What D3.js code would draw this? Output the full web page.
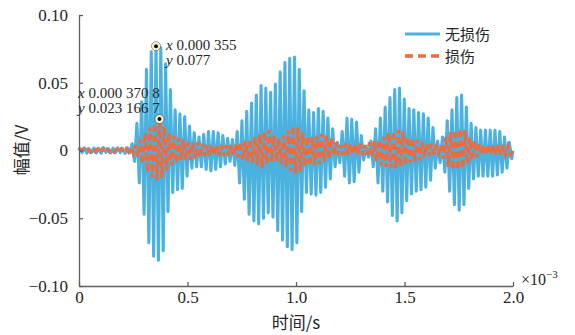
<!DOCTYPE html>
<html>
<head>
<meta charset="utf-8">
<script src="https://cdn.jsdelivr.net/npm/d3@7"></script>
<style>
  html, body { margin: 0; padding: 0; background: #fff; }
  svg { display: block; }
</style>
</head>
<body>
<svg id="chart" width="575" height="335"></svg>
<script>
// Echo signal: per-cycle extremes (V) of the carrier, undamaged and damaged plate
const cyclePeriod = 0.022e-3;          // carrier period, s
const blueStart = 0.003e-3;            // time of first positive extreme, s
const orangeStart = 0.0188e-3;

const blueUpper = [0.0016,0.0020,0.0013,0.0018,0.0015,0.0021,0.0014,0.0017,0.0019,0.0015,0.0020,
  0.005,0.020,0.036,0.060,0.073,0.077,0.076,0.064,0.045,
  0.030,0.027,0.025,0.018,0.013,0.010,0.012,0.014,0.014,0.013,
  0.011,0.009,0.008,0.014,0.022,0.029,0.035,0.041,0.048,0.046,
  0.043,0.049,0.058,0.065,0.068,0.069,0.060,0.044,0.030,0.028,
  0.031,0.029,0.024,0.016,0.006,0.014,0.024,0.023,0.021,0.011,
  0.003,0.007,0.016,0.024,0.032,0.039,0.045,0.046,0.038,0.031,
  0.030,0.028,0.027,0.024,0.017,0.007,0.010,0.022,0.030,0.039,
  0.041,0.032,0.020,0.017,0.015,0.015,0.015,0.015,0.014,0.010,0.006];
const blueLower = [-0.0015,-0.0019,-0.0014,-0.0017,-0.0020,-0.0013,-0.0018,-0.0016,-0.0015,-0.0021,-0.0017,
  -0.008,-0.024,-0.047,-0.068,-0.078,-0.081,-0.074,-0.045,-0.031,
  -0.029,-0.028,-0.019,-0.013,-0.012,-0.012,-0.014,-0.015,-0.014,-0.012,
  -0.010,-0.008,-0.011,-0.024,-0.036,-0.047,-0.052,-0.054,-0.050,-0.046,
  -0.049,-0.059,-0.066,-0.071,-0.073,-0.068,-0.045,-0.031,-0.032,-0.033,
  -0.031,-0.027,-0.021,-0.012,-0.009,-0.019,-0.024,-0.023,-0.016,-0.007,
  -0.005,-0.012,-0.024,-0.030,-0.038,-0.048,-0.052,-0.046,-0.037,-0.032,
  -0.030,-0.029,-0.027,-0.022,-0.013,-0.009,-0.016,-0.030,-0.040,-0.044,
  -0.040,-0.028,-0.021,-0.019,-0.019,-0.019,-0.019,-0.018,-0.016,-0.013,-0.006];
const orangeUpper = [0.0010,0.0008,0.0012,0.0009,0.0011,0.0010,0.0012,0.0009,0.0011,0.0013,
  0.002,0.004,0.008,0.013,0.017,0.020,0.0231667,0.018,0.013,0.011,
  0.009,0.008,0.006,0.006,0.006,0.005,0.004,0.004,0.004,0.004,
  0.004,0.004,0.005,0.006,0.007,0.008,0.010,0.012,0.014,0.015,
  0.011,0.009,0.011,0.015,0.018,0.017,0.013,0.010,0.010,0.011,
  0.012,0.011,0.009,0.006,0.004,0.005,0.005,0.005,0.005,0.004,
  0.006,0.007,0.008,0.010,0.013,0.014,0.015,0.014,0.010,0.009,
  0.008,0.006,0.005,0.005,0.003,0.004,0.010,0.014,0.015,0.016,
  0.015,0.009,0.007,0.005,0.004,0.004,0.004,0.004,0.004,0.003];
const orangeLower = [-0.0009,-0.0011,-0.0008,-0.0012,-0.0010,-0.0009,-0.0011,-0.0012,-0.0010,-0.0011,
  -0.002,-0.005,-0.010,-0.016,-0.020,-0.022,-0.020,-0.015,-0.011,-0.009,
  -0.007,-0.007,-0.007,-0.006,-0.005,-0.004,-0.004,-0.004,-0.004,-0.004,
  -0.004,-0.004,-0.005,-0.007,-0.008,-0.009,-0.011,-0.013,-0.010,-0.008,
  -0.008,-0.010,-0.012,-0.015,-0.017,-0.016,-0.012,-0.011,-0.011,-0.010,
  -0.008,-0.006,-0.004,-0.003,-0.003,-0.003,-0.003,-0.003,-0.003,-0.003,
  -0.005,-0.008,-0.011,-0.012,-0.013,-0.013,-0.012,-0.011,-0.009,-0.008,
  -0.007,-0.005,-0.004,-0.003,-0.002,-0.006,-0.012,-0.014,-0.014,-0.013,
  -0.010,-0.007,-0.005,-0.003,-0.003,-0.003,-0.003,-0.003,-0.003,-0.003];

const seriesNames = ["无损伤", "损伤"];
const seriesColors = ["#4bb2df", "#ef6a3e"];
const xTickValues = [0, 0.5e-3, 1.0e-3, 1.5e-3, 2.0e-3];
const xTickLabels = ["0", "0.5", "1.0", "1.5", "2.0"];
const yTickValues = [-0.10, -0.05, 0, 0.05, 0.10];
const yTickLabels = ["\u22120.10", "\u22120.05", "0", "0.05", "0.10"];
const dataTips = [
  { t: 0.000355, v: 0.077, lines: [["x", "0.000 355"], ["y", "0.077"]] },
  { t: 0.0003708, v: 0.0231667, lines: [["x", "0.000 370 8"], ["y", "0.023 166 7"]] }
];

const serif = "'Liberation Serif', 'Times New Roman', serif";
const cjk = "'Noto Sans CJK SC', 'Noto Sans', sans-serif";

// Build the zig-zag trace from alternating positive / negative extremes
function buildTrace(start, upper, lower) {
  const pts = [{ t: 0, v: 0 }];
  upper.forEach((u, k) => {
    const t = start + k * cyclePeriod;
    pts.push({ t: t, v: u });
    pts.push({ t: t + cyclePeriod / 2, v: lower[k] });
  });
  pts.push({ t: 2e-3, v: 0 });
  return pts;
}
const blueTrace = buildTrace(blueStart, blueUpper, blueLower);
const orangeTrace = buildTrace(orangeStart, orangeUpper, orangeLower);

const svg = d3.select("#chart");
const x = d3.scaleLinear().domain([0, 2e-3]).range([79, 513]);
const y = d3.scaleLinear().domain([-0.10, 0.10]).range([286, 15]);
const axisColor = "#606060";
const textColor = "#262626";

const line = d3.line().x(d => x(d.t)).y(d => y(d.v));

svg.append("path").datum(blueTrace)
  .attr("d", line).attr("fill", "none")
  .attr("stroke", seriesColors[0]).attr("stroke-width", 3.1)
  .attr("stroke-linejoin", "round");

svg.append("path").datum(orangeTrace)
  .attr("d", line).attr("fill", "none")
  .attr("stroke", seriesColors[1]).attr("stroke-width", 3.3)
  .attr("stroke-dasharray", "6,4");

// Axes: left and bottom only, ticks pointing inward
const yAxis = d3.axisLeft(y).tickValues(yTickValues)
  .tickFormat((d, i) => yTickLabels[i]).tickSizeInner(-4).tickSizeOuter(0).tickPadding(11);
const gy = svg.append("g").attr("transform", `translate(${x(0)},0)`).call(yAxis);

const xAxis = d3.axisBottom(x).tickValues(xTickValues)
  .tickFormat((d, i) => xTickLabels[i]).tickSizeInner(-4).tickSizeOuter(0).tickPadding(5);
const gx = svg.append("g").attr("transform", `translate(0,${y(-0.10)})`).call(xAxis);

[gx, gy].forEach(g => {
  g.attr("font-family", serif).attr("font-size", 17);
  g.select(".domain").attr("stroke", axisColor).attr("stroke-width", 1.3);
  g.selectAll(".tick line").attr("stroke", axisColor).attr("stroke-width", 1.3);
  g.selectAll(".tick text").style("font-family", serif).attr("font-size", 17).attr("fill", textColor);
});

// Axis titles
svg.append("text").style("font-family", cjk)
  .attr("transform", `translate(28,150) rotate(-90)`)
  .attr("text-anchor", "middle").attr("font-size", 17).attr("fill", textColor)
  .text("幅值/V");
svg.append("text").style("font-family", cjk)
  .attr("x", 296).attr("y", 329).attr("text-anchor", "middle")
  .attr("font-size", 17).attr("fill", textColor).text("时间/s");

// Exponent marker of the time axis
const expo = svg.append("text").style("font-family", serif)
  .attr("x", 521).attr("y", 285).attr("font-size", 16).attr("fill", textColor);
expo.append("tspan").text("×10");
expo.append("tspan").attr("font-size", 11).attr("dy", -7).text("\u22123");

// Legend
const legend = svg.append("g").attr("transform", "translate(405,34)");
seriesNames.forEach((name, i) => {
  const row = legend.append("g").attr("transform", `translate(0,${i * 22})`);
  row.append("line").attr("x1", 0).attr("x2", 35).attr("y1", 0).attr("y2", 0)
    .attr("stroke", seriesColors[i]).attr("stroke-width", i === 0 ? 2.8 : 3.3)
    .attr("stroke-dasharray", i === 0 ? null : "8,5");
  row.append("text").style("font-family", cjk).attr("x", 40).attr("y", 5.5)
    .attr("font-size", 15).attr("fill", textColor).text(name);
});

// Data tips: marker on the sample plus a two-line readout
const tipOffsets = [
  { dx: 10, dy: 4 },
  { dx: -81.5, dy: -21 }
];
dataTips.forEach((tip, i) => {
  const cx = x(tip.t), cy = y(tip.v);
  svg.append("circle").attr("cx", cx).attr("cy", cy).attr("r", 4.5).attr("fill", "#fbf6cf")
    .attr("stroke", "#333").attr("stroke-width", 0.5);
  svg.append("circle").attr("cx", cx).attr("cy", cy).attr("r", 2).attr("fill", "#111");
  tip.lines.forEach((ln, j) => {
    const tx = svg.append("text").style("font-family", serif)
      .attr("x", cx + tipOffsets[i].dx).attr("y", cy + tipOffsets[i].dy + j * 15)
      .attr("font-size", 15).attr("fill", textColor);
    tx.append("tspan").attr("font-style", "italic").text(ln[0]);
    tx.append("tspan").text(" " + ln[1]);
  });
});
</script>
</body>
</html>
